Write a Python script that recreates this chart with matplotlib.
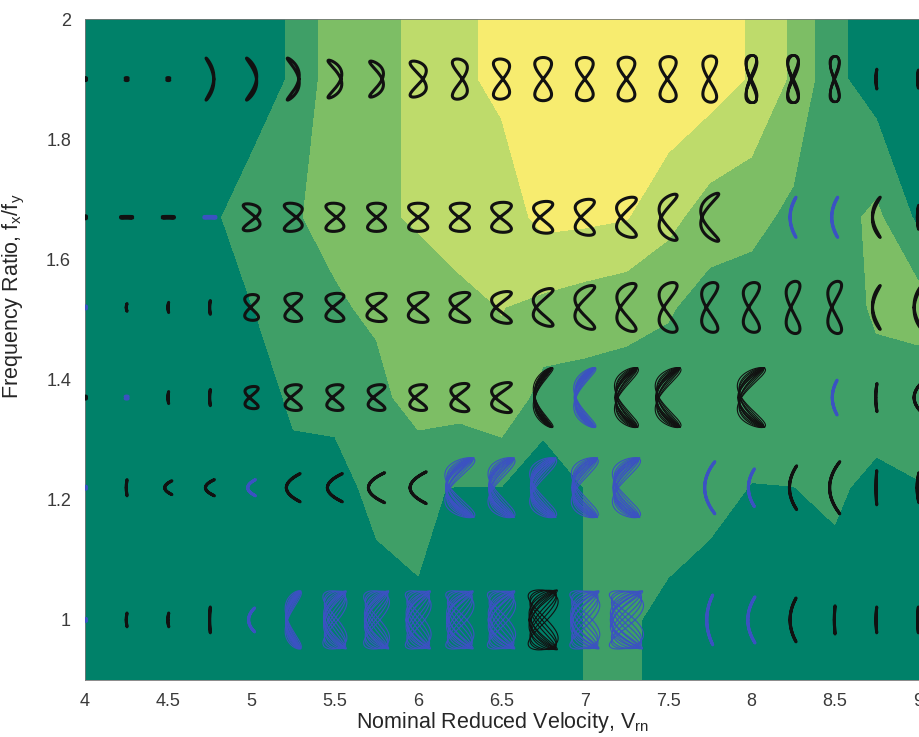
import numpy as np
import matplotlib
matplotlib.use('Agg')
import matplotlib.pyplot as plt

plt.rcParams['font.family'] = ['Liberation Sans', 'DejaVu Sans']
plt.rcParams['mathtext.fontset'] = 'custom'
plt.rcParams['mathtext.rm'] = 'Liberation Sans'
plt.rcParams['mathtext.it'] = 'Liberation Sans:italic'

# test grid: nominal reduced velocity (columns) x frequency ratio (rows)
vr = [4.0, 4.25, 4.5, 4.75, 5.0, 5.25, 5.5, 5.75, 6.0, 6.25, 6.5,
      6.75, 7.0, 7.25, 7.5, 7.75, 8.0, 8.25, 8.5, 8.75, 9.0]
fr = [1.0, 1.22, 1.37, 1.52, 1.67, 1.9]

# response level at each test point, one row per frequency ratio
response = [
    [0, 0, 0, 0, 0.1, 0.2, 0.2, 0.2, 0.98, 0.6, 0.5, 0.3, 1.02, 1.12, 0.79, 0.53, 0.5, 0.55, 0.61, 0.4, 0.3],
    [0, 0, 0, 0.2, 0.5, 0.82, 0.35, 1.51, 1.04, 0.98, 0.98, 0.3, 1.02, 1.4, 1.45, 1.3, 0.97, 0.99, 1.15, 0.74, 0.97],
    [0, 0, 0, 0.3, 0.7, 1.1, 1.5, 1.65, 2.54, 2.4, 2.8, 1.6, 1.6, 1.6, 1.5, 1.5, 1.5, 1.6, 1.6, 1.5, 1.3],
    [0, 0, 0, 0.5, 0.97, 1.6, 1.85, 2.2, 2.5, 2.8, 3.02, 2.76, 2.51, 2.3, 2.1, 1.6, 1.5, 1.5, 1.3, 2.2, 2.5],
    [0, 0, 0, 0.7, 1.77, 1.9, 2.32, 2.85, 3.1, 3.34, 3.5, 4.26, 4.2, 4.05, 3.3, 2.5, 2.3, 1.76, 1.6, 2.22, 0.8],
    [0, 0, 0, 0, 0.1, 1.2, 2.53, 2.7, 3.2, 3.84, 4.2, 4.8, 4.9, 4.9, 4.8, 4.5, 3.9, 2.83, 1.23, 0.5, 0.4],
]
levels = [-1, 1, 2, 3, 4, 6]
band_colors = ['#008169', '#3f9f67', '#7dbe65', '#bedb6b', '#f7ec6f']

# orbit of each run: cross-flow and in-line amplitude, phase (deg),
# cycle-to-cycle phase wander (deg) and trace colour ('-' = no run)
orbit_ay = [
    [0.05, 0.23, 0.23, 0.43, 0.4, 0.97, 0.97, 0.97, 0.97, 0.97, 0.97, 1.0, 0.97, 0.97, 0, 0.83, 0.77, 0.73, 0.47, 0.43, 0.43],
    [0.05, 0.27, 0.23, 0.27, 0.27, 0.47, 0.47, 0.5, 0.53, 1.0, 1.0, 1.0, 1.0, 1.0, 0, 0.87, 0.63, 0.73, 0.87, 0.57, 0.5],
    [0.05, 0.05, 0.2, 0.27, 0.37, 0.43, 0.43, 0.43, 0.43, 0.47, 0.5, 1.0, 1.0, 1.0, 1.0, 0, 1.0, 0, 0.58, 0.47, 0.5],
    [0.05, 0.13, 0.17, 0.23, 0.43, 0.47, 0.47, 0.47, 0.5, 0.5, 0.53, 0.63, 0.73, 0.8, 0.83, 0.83, 0.83, 0.87, 0.87, 0.73, 0.73],
    [0.05, 0.03, 0.03, 0.03, 0.45, 0.47, 0.47, 0.47, 0.47, 0.47, 0.5, 0.53, 0.6, 0.67, 0.77, 0.8, 0, 0.67, 0.67, 0.67, 0.4],
    [0.05, 0.05, 0.05, 0.7, 0.7, 0.7, 0.63, 0.6, 0.6, 0.67, 0.67, 0.72, 0.72, 0.73, 0.75, 0.77, 0.8, 0.8, 0.77, 0.33, 0.3],
]
orbit_ax = [
    [0.05, 0.012, 0.015, 0.012, 0.1, 0.27, 0.4, 0.43, 0.43, 0.47, 0.47, 0.5, 0.5, 0.57, 0, 0.1, 0.12, 0.1, 0.012, 0.012, 0.012],
    [0.05, 0.012, 0.12, 0.15, 0.13, 0.23, 0.25, 0.27, 0.27, 0.5, 0.45, 0.45, 0.45, 0.47, 0, 0.17, 0.1, 0.12, 0.17, 0.012, 0.03],
    [0.05, 0.05, 0.012, 0.012, 0.22, 0.27, 0.27, 0.28, 0.28, 0.3, 0.33, 0.33, 0.37, 0.4, 0.43, 0, 0.47, 0, 0.08, 0.02, 0.13],
    [0.05, 0.012, 0.012, 0.012, 0.23, 0.28, 0.3, 0.32, 0.33, 0.33, 0.33, 0.33, 0.33, 0.32, 0.3, 0.27, 0.27, 0.23, 0.23, 0.13, 0.13],
    [0.05, 0.2, 0.2, 0.2, 0.28, 0.3, 0.3, 0.3, 0.32, 0.32, 0.33, 0.32, 0.32, 0.33, 0.3, 0.3, 0, 0.1, 0.1, 0.13, 0.02],
    [0.05, 0.05, 0.05, 0.13, 0.17, 0.2, 0.23, 0.23, 0.27, 0.25, 0.27, 0.28, 0.28, 0.28, 0.27, 0.23, 0.2, 0.2, 0.17, 0.015, 0.015],
]
orbit_phase = [
    [0, -90, -90, -90, -90, -75, -45, -45, -40, -40, -40, -45, -40, -40, 0, -90, -90, -90, -90, -90, -90],
    [0, -90, -90, -90, -90, -90, -90, -90, -90, -75, -75, -75, -75, -75, 0, -90, -90, -90, -90, -90, -90],
    [0, 0, -90, -90, -20, -20, -20, -25, -25, -30, -40, -80, -80, -75, -75, 0, -75, 0, -90, -90, -90],
    [0, -90, -90, -90, -10, -15, -15, -20, -25, -30, -35, -45, -45, -40, -30, -25, -20, -20, -25, -80, -80],
    [0, 0, 0, 0, 30, 20, 10, 0, 0, -5, -10, -20, -25, -35, -50, -60, 0, -85, -85, -80, -90],
    [0, 0, 0, 80, 75, 70, 60, 55, 35, 20, 10, 0, 0, 0, -5, -10, -10, -5, -5, -90, -90],
]
orbit_wander = [
    [0, 0, 0, 0, 0, 30, 60, 60, 70, 70, 70, 60, 70, 70, 0, 0, 0, 0, 0, 0, 0],
    [0, 0, 0, 0, 0, 0, 0, 0, 0, 35, 40, 40, 40, 40, 0, 0, 0, 0, 0, 0, 0],
    [0, 0, 0, 0, 0, 0, 0, 0, 0, 0, 0, 20, 25, 30, 30, 0, 30, 0, 0, 0, 0],
    [0] * 21,
    [0] * 21,
    [0, 0, 0, 0, 0, 0, 0, 0, 0, 0, 0, 0, 0, 0, 0, 0, 12, 12, 8, 0, 0],
]
orbit_color = [
    'bkkkbbbbbbbkbb-bbkkkk',
    'bkkkbkkkkbbbbb-bbkkkk',
    'kbkkkkkkkkkkbkk-k-bkk',
    'bkkkkkkkkkkkkkkkkkkkk',
    'kkkbkkkkkkkkkkkk-bbkk',
    'kkkkkkkkkkkkkkkkkkkkk',
]
trace_colors = {'k': '#111111', 'b': '#3b52c2'}

fig = plt.figure(figsize=(9.2, 7.37), dpi=100)
ax = fig.add_axes([85 / 920, 1 - 680 / 737, 835 / 920, 661 / 737])
xlim = (4, 9.012)
ylim = (0.9, 2.0)
ax.set_xlim(*xlim)
ax.set_ylim(*ylim)

# fill the band map, holding edge values out to the axes limits
z = np.array(response, dtype=float)
x_grid = np.r_[vr, vr[-1] + 0.25]
y_grid = np.r_[ylim[0], fr, ylim[1]]
z = np.hstack([z, z[:, -1:]])
z = np.vstack([z[:1], z, z[-1:]])
ax.contourf(x_grid, y_grid, z, levels=levels, colors=band_colors, zorder=0)

# orbit glyphs: 30 px per unit amplitude in both directions
orbit_px = 30.0
sx = orbit_px * (xlim[1] - xlim[0]) / 835
sy = orbit_px * (ylim[1] - ylim[0]) / 661
t = np.linspace(0, 2 * np.pi, 180)
for r, f in enumerate(fr):
    for c, v in enumerate(vr):
        kind = orbit_color[r][c]
        if kind == '-':
            continue
        a_y = orbit_ay[r][c]
        a_x = orbit_ax[r][c]
        ph = orbit_phase[r][c]
        wander = orbit_wander[r][c]
        col = trace_colors[kind]
        if wander == 0:
            phases = [ph]
            gains = [1.0]
            lw = 2.2
        else:
            n = 7
            u = np.linspace(-1, 1, n)
            phases = ph + wander * u[[0, 4, 2, 6, 1, 5, 3]]
            gains = 1.0 - 0.18 * np.abs(u)
            lw = 0.8 if wander > 15 else 1.4
        for p, g in zip(phases, gains):
            xs = v + sx * a_x * g * np.sin(2 * t + np.radians(p))
            ys = f + sy * a_y * (0.9 + 0.1 * g) * np.sin(t)
            ax.plot(xs, ys, color=col, lw=lw, solid_capstyle='round', zorder=3)

ax.set_xticks([4, 4.5, 5, 5.5, 6, 6.5, 7, 7.5, 8, 8.5, 9])
ax.set_xticklabels(['4', '4.5', '5', '5.5', '6', '6.5', '7', '7.5', '8', '8.5', '9'])
ax.set_yticks([1, 1.2, 1.4, 1.6, 1.8, 2])
ax.set_yticklabels(['1', '1.2', '1.4', '1.6', '1.8', '2'])
ax.tick_params(axis='both', length=0, labelsize=13, colors='#3a3a3a')
ax.tick_params(axis='x', pad=9)
ax.tick_params(axis='y', pad=10)
for s in ax.spines.values():
    s.set_color('#777777')
    s.set_linewidth(0.6)

ax.set_xlabel(r'Nominal Reduced Velocity, V$_{\rm rn}$', fontsize=15.5, color='#262626')
ax.set_ylabel(r'Frequency Ratio, f$_{\rm x}$/f$_{\rm y}$', fontsize=15.5, color='#262626')
ax.xaxis.set_label_coords(0.5, -0.045)
ax.yaxis.set_label_coords(-0.069, 0.58)

fig.savefig('out.png', dpi=100)
